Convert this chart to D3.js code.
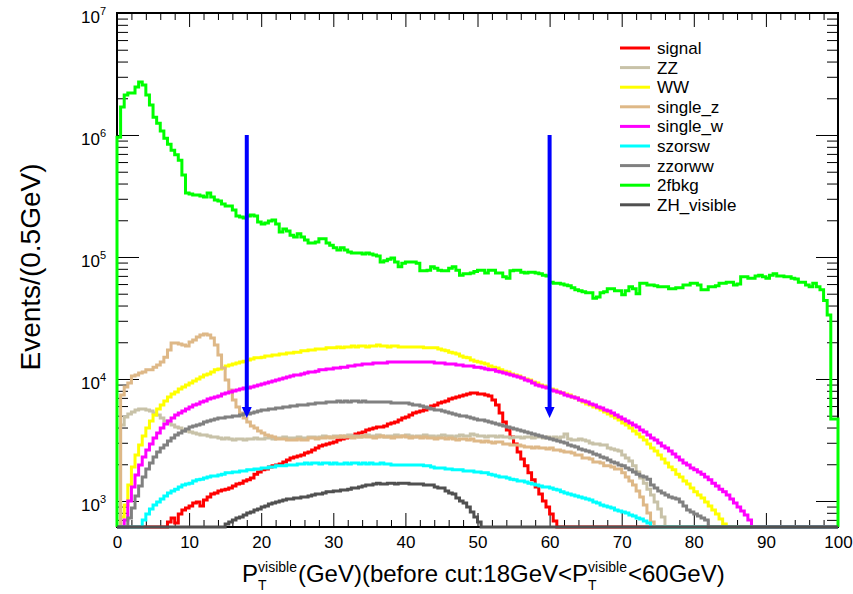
<!DOCTYPE html>
<html>
<head>
<meta charset="utf-8">
<script src="https://cdn.jsdelivr.net/npm/d3@7"></script>
<style>
body { margin: 0; background: #fff; }
svg { display: block; font-family: "Liberation Sans", Arial, Helvetica, sans-serif; }
</style>
</head>
<body>
<svg id="pt-graph" width="853" height="594"></svg>
<script>
var seriesNames = ["signal", "ZZ", "WW", "single_z", "single_w", "szorsw", "zzorww", "2fbkg", "ZH_visible"];
var seriesColors = ["#ff0000", "#c8c2a8", "#ffff00", "#deb887", "#ff00ff", "#00ffff", "#808080", "#00ff00", "#505050"];

var binWidth = 0.5, nBins = 200;
var xTicks = [0, 10, 20, 30, 40, 50, 60, 70, 80, 90, 100];
var yMajor = [1e3, 1e4, 1e5, 1e6, 1e7];
var yExpLabels = ["3", "4", "5", "6", "7"];
var cutValues = [18, 60];
var arrowFrom = 1e6, arrowTo = 4800;

// first bin index + bin contents (events / 0.5 GeV)
var signalStart = 14;
var signal = [673, 726, 660, 782, 844, 876, 910, 963, 981, 910,
  1020, 1080, 1140, 1160, 1210, 1230, 1250, 1280, 1330, 1380,
  1400, 1460, 1490, 1540, 1660, 1730, 1800, 1830, 1900, 1940,
  1970, 2010, 2090, 2170, 2250, 2290, 2340, 2380, 2470, 2520,
  2620, 2720, 2820, 2880, 2930, 2990, 3050, 3160, 3220, 3280,
  3350, 3410, 3540, 3610, 3680, 3820, 3890, 3970, 4040, 4040,
  4120, 4280, 4360, 4440, 4610, 4790, 4880, 5070, 5260, 5360,
  5470, 5570, 5780, 6010, 6120, 6360, 6480, 6600, 6860, 6990,
  7120, 7260, 7390, 7530, 7680, 7680, 7530, 7530, 7390, 7260,
  6730, 6120, 5260, 4440, 3820, 3350, 2930, 2520, 2210, 1940,
  1700, 1490, 1300, 1140, 1000, 893, 782, 686];

var zzStart = 1;
var zz = [4200, 4880, 5170, 5360, 5570, 5680, 5680, 5570, 5470, 5260,
  5070, 4790, 4530, 4360, 4200, 4040, 3970, 3820, 3750, 3680,
  3610, 3540, 3470, 3470, 3410, 3350, 3350, 3280, 3220, 3280,
  3220, 3160, 3220, 3220, 3160, 3220, 3220, 3280, 3220, 3220,
  3280, 3280, 3220, 3280, 3280, 3350, 3280, 3280, 3280, 3350,
  3280, 3280, 3350, 3350, 3280, 3350, 3410, 3350, 3350, 3410,
  3410, 3350, 3410, 3470, 3410, 3410, 3350, 3410, 3470, 3410,
  3410, 3470, 3410, 3350, 3410, 3410, 3470, 3410, 3410, 3470,
  3410, 3350, 3410, 3410, 3470, 3410, 3410, 3350, 3410, 3470,
  3410, 3410, 3350, 3410, 3470, 3410, 3410, 3540, 3470, 3410,
  3410, 3350, 3410, 3410, 3350, 3410, 3350, 3350, 3280, 3350,
  3350, 3280, 3350, 3350, 3280, 3350, 3350, 3280, 3350, 3280,
  3350, 3280, 3350, 3540, 3220, 3160, 3160, 3220, 3160, 3100,
  2990, 2930, 2930, 2880, 2880, 2720, 2670, 2620, 2570, 2380,
  2250, 2130, 1940, 1730, 1540, 1400, 1250, 1120, 981, 860, 739];

var wwStart = 1;
var ww = [739, 927, 1350, 1900, 2380, 2880, 3410, 3970, 4530, 5070,
  5680, 6120, 6600, 7120, 7530, 7820, 8280, 8600, 8930, 9270,
  9630, 10000, 10400, 10800, 11000, 11400, 11900, 12100, 12300, 12800,
  13000, 13300, 13500, 13800, 14000, 14300, 14600, 14900, 14900, 15100,
  15400, 15400, 15700, 15700, 16000, 16000, 16300, 16300, 16600, 16600,
  17000, 17000, 17300, 17300, 17600, 17600, 17600, 18000, 18000, 18000,
  18300, 18000, 18300, 18300, 18600, 18300, 18600, 18600, 18300, 18600,
  18600, 19000, 18600, 18600, 18300, 18600, 18600, 18300, 18300, 18300,
  18300, 18300, 18300, 18300, 18000, 18000, 18000, 18000, 17600, 17300,
  17000, 16600, 16300, 16000, 15400, 15100, 14900, 14300, 14000, 13800,
  13500, 13300, 12800, 12500, 12300, 11900, 11600, 11400, 11000, 10800,
  10600, 10200, 10000, 9810, 9450, 9270, 8930, 8760, 8600, 8280,
  8130, 7820, 7680, 7530, 7390, 7120, 6990, 6730, 6480, 6240,
  6120, 5900, 5780, 5570, 5360, 5170, 4980, 4790, 4610, 4360,
  4200, 3970, 3750, 3540, 3350, 3160, 2930, 2720, 2570, 2380,
  2210, 2050, 1900, 1800, 1660, 1570, 1460, 1380, 1280, 1190,
  1120, 1060, 981, 910, 844, 782, 712, 648];

var singleZStart = 1;
var singleZ = [7390, 8600, 9270, 10600, 10800, 11200, 11400, 11900, 11900, 12500,
  13000, 13800, 15100, 17300, 19700, 19700, 19400, 19000, 18600, 20100,
  20900, 22100, 22900, 23400, 22900, 21700, 19000, 15700, 12300, 9810,
  8130, 6730, 5900, 5260, 4790, 4440, 4120, 3970, 3750, 3610,
  3470, 3410, 3350, 3220, 3220, 3220, 3160, 3160, 3160, 3220,
  3160, 3160, 3280, 3280, 3220, 3280, 3280, 3350, 3280, 3350,
  3350, 3410, 3350, 3350, 3280, 3350, 3350, 3410, 3350, 3350,
  3280, 3350, 3410, 3350, 3350, 3280, 3350, 3350, 3410, 3350,
  3280, 3350, 3350, 3280, 3350, 3280, 3280, 3220, 3280, 3280,
  3220, 3280, 3220, 3160, 3220, 3220, 3160, 3220, 3100, 3100,
  3050, 3100, 3050, 2990, 3050, 3050, 2930, 2930, 2880, 2880,
  2880, 2820, 2770, 2770, 2720, 2770, 2720, 2720, 2670, 2720,
  2620, 2620, 2570, 2520, 2520, 2470, 2380, 2380, 2250, 2250,
  2210, 2090, 2090, 2050, 1940, 1940, 1900, 1830, 1830, 1700,
  1570, 1460, 1350, 1210, 1080, 927, 797, 673];

var singleWStart = 2;
var singleW = [699, 1000, 1300, 1630, 1970, 2290, 2620, 2930, 3280, 3610,
  3970, 4280, 4530, 4790, 5070, 5260, 5470, 5680, 5900, 6120,
  6240, 6480, 6600, 6860, 6990, 7120, 7260, 7530, 7680, 7820,
  7970, 8130, 8280, 8440, 8440, 8600, 8760, 8930, 9100, 9270,
  9450, 9630, 9810, 10000, 10200, 10400, 10600, 10800, 10800, 11000,
  11200, 11400, 11400, 11600, 11900, 11900, 12100, 12100, 12300, 12300,
  12500, 12500, 12800, 12800, 13000, 13000, 13300, 13300, 13300, 13500,
  13500, 13500, 13500, 13800, 13800, 13800, 13800, 13800, 13800, 13800,
  13800, 13800, 13800, 13800, 13800, 13800, 13500, 13500, 13500, 13300,
  13300, 13300, 13000, 13000, 12800, 12800, 12800, 12500, 12500, 12300,
  12100, 11900, 11900, 11600, 11400, 11200, 11000, 10800, 10600, 10400,
  10200, 9810, 9630, 9270, 8930, 8760, 8600, 8440, 8130, 7970,
  7820, 7680, 7390, 7260, 7120, 6990, 6730, 6600, 6480, 6240,
  6120, 5900, 5780, 5570, 5470, 5260, 5070, 4880, 4700, 4530,
  4360, 4200, 4040, 3820, 3680, 3470, 3280, 3160, 2990, 2820,
  2720, 2570, 2430, 2290, 2170, 2050, 1970, 1860, 1800, 1730,
  1660, 1570, 1490, 1400, 1330, 1250, 1190, 1120, 1040, 963,
  893, 828, 768, 699];

var szorswStart = 7;
var szorsw = [699, 782, 860, 927, 981, 1040, 1100, 1160, 1210, 1250,
  1300, 1350, 1380, 1400, 1460, 1490, 1510, 1540, 1570, 1600,
  1600, 1630, 1660, 1700, 1700, 1730, 1730, 1760, 1760, 1800,
  1800, 1830, 1830, 1860, 1860, 1900, 1900, 1940, 1940, 1940,
  1970, 1970, 1970, 2010, 2010, 2050, 2010, 2050, 2050, 2010,
  2050, 2050, 2010, 2050, 2010, 2010, 2050, 2010, 2050, 2050,
  2010, 2050, 2010, 2050, 2010, 2010, 2050, 2010, 2010, 1970,
  1970, 1970, 1970, 1970, 1970, 1970, 1970, 1970, 1940, 1940,
  1900, 1860, 1860, 1860, 1830, 1830, 1800, 1800, 1800, 1760,
  1760, 1760, 1730, 1730, 1700, 1700, 1660, 1630, 1600, 1570,
  1570, 1540, 1510, 1490, 1460, 1460, 1430, 1400, 1380, 1350,
  1330, 1300, 1300, 1280, 1250, 1230, 1190, 1160, 1140, 1120,
  1100, 1080, 1060, 1040, 1020, 981, 963, 927, 910, 893,
  876, 844, 828, 813, 797, 768, 753, 726, 712, 686, 660];

var zzorwwStart = 3;
var zzorww = [726, 876, 1100, 1330, 1570, 1830, 2050, 2290, 2520, 2720,
  2880, 3100, 3280, 3470, 3610, 3750, 3890, 4040, 4120, 4200,
  4280, 4440, 4530, 4610, 4700, 4790, 4790, 4880, 4880, 4980,
  4980, 5070, 5170, 5170, 5260, 5360, 5470, 5570, 5570, 5680,
  5680, 5780, 5780, 5900, 5900, 6010, 6010, 6120, 6120, 6120,
  6240, 6240, 6360, 6360, 6360, 6480, 6480, 6480, 6600, 6480,
  6600, 6480, 6600, 6600, 6480, 6600, 6480, 6480, 6480, 6480,
  6480, 6480, 6480, 6360, 6360, 6360, 6360, 6360, 6240, 6120,
  6120, 6010, 5900, 5780, 5680, 5570, 5570, 5470, 5360, 5260,
  5170, 5070, 4980, 4980, 4880, 4790, 4700, 4610, 4610, 4530,
  4440, 4360, 4280, 4200, 4120, 4040, 3970, 3890, 3820, 3750,
  3680, 3610, 3540, 3470, 3410, 3350, 3280, 3220, 3160, 3100,
  3050, 2990, 2880, 2820, 2770, 2670, 2620, 2570, 2520, 2430,
  2380, 2290, 2250, 2170, 2090, 2050, 1970, 1940, 1860, 1800,
  1730, 1660, 1600, 1570, 1510, 1350, 1280, 1210, 1160, 1120,
  1080, 1060, 1040, 981, 910, 844, 813, 782, 753, 726, 699];

var bkg2fStart = 0;
var bkg2f = [960000, 1700000, 2130000, 2210000, 2210000, 2470000, 2720000, 2570000, 2130000, 1760000,
  1400000, 1250000, 1080000, 940000, 840000, 750000, 690000, 620000, 470000, 335000,
  328000, 322000, 322000, 316000, 310000, 335000, 310000, 293000, 288000, 272000,
  262000, 262000, 243000, 217000, 213000, 209000, 217000, 221000, 217000, 194000,
  186000, 190000, 197000, 201000, 186000, 160000, 170000, 163000, 151000, 146000,
  155000, 146000, 138000, 130000, 130000, 133000, 141000, 141000, 130000, 125000,
  119000, 114000, 119000, 114000, 110000, 108000, 108000, 108000, 106000, 108000,
  106000, 104000, 102000, 91000, 93000, 96000, 98000, 91000, 83000, 89000,
  91000, 91000, 91000, 89000, 77000, 77000, 78000, 83000, 81000, 78000,
  77000, 77000, 81000, 83000, 78000, 71000, 73000, 73000, 74000, 76000,
  78000, 78000, 74000, 78000, 78000, 74000, 74000, 69000, 67000, 77000,
  78000, 78000, 75000, 74000, 75000, 75000, 74000, 73000, 71000, 70000,
  62000, 61000, 61000, 60000, 59000, 58000, 56000, 54000, 53000, 52000,
  51000, 51000, 46000, 47000, 51000, 52000, 55000, 55000, 53000, 53000,
  49000, 53000, 57000, 55000, 50000, 61000, 61000, 59000, 59000, 58000,
  57000, 57000, 57000, 55000, 55000, 56000, 56000, 59000, 59000, 61000,
  61000, 59000, 54000, 54000, 57000, 57000, 58000, 61000, 61000, 62000,
  62000, 59000, 60000, 69000, 69000, 67000, 67000, 70000, 71000, 69000,
  67000, 71000, 73000, 70000, 70000, 69000, 69000, 67000, 66000, 62000,
  62000, 59000, 57000, 61000, 57000, 54000, 44000, 33500, 4700, 4700];

var zhStart = 30;
var zh = [648, 673, 699, 726, 739, 768, 797, 813, 844, 860,
  893, 910, 945, 963, 981, 1000, 1020, 1040, 1040, 1060,
  1060, 1080, 1080, 1100, 1120, 1140, 1140, 1160, 1190, 1190,
  1210, 1210, 1230, 1230, 1250, 1280, 1280, 1300, 1330, 1350,
  1350, 1380, 1400, 1380, 1380, 1400, 1400, 1380, 1400, 1400,
  1400, 1380, 1380, 1380, 1380, 1350, 1350, 1350, 1300, 1280,
  1280, 1210, 1160, 1140, 1060, 1000, 963, 893, 813, 739, 673];

var seriesData = [
  [signalStart, signal], [zzStart, zz], [wwStart, ww], [singleZStart, singleZ],
  [singleWStart, singleW], [szorswStart, szorsw], [zzorwwStart, zzorww],
  [bkg2fStart, bkg2f], [zhStart, zh]
];

var svg = d3.select("#pt-graph"),
    margin = {top: 13, right: 15, bottom: 67, left: 117},
    width = +svg.attr("width") - margin.left - margin.right,
    height = +svg.attr("height") - margin.top - margin.bottom,
    g = svg.append("g").attr("transform", "translate(" + margin.left + "," + margin.top + ")");

var yMin = 612, yMax = 1e7;

var x = d3.scaleLinear().domain([0, 100]).range([0, width]);
var y = d3.scaleLog().domain([yMin, yMax]).range([height, 0]);

var xMinor = d3.range(0, 101, 2).filter(function(d) { return d % 10 !== 0; });
var yMinor = y.ticks().filter(function(d) { return yMajor.indexOf(d) < 0; });

function styleTicks(sel) {
  sel.select(".domain").remove();
  sel.selectAll(".tick line").attr("stroke", "black").attr("stroke-width", 1);
}

// bottom / top
g.append("g").attr("transform", "translate(0," + height + ")")
    .call(d3.axisBottom(x).tickValues(xTicks).tickSize(-14).tickPadding(9).tickFormat(d3.format("d")))
    .call(function(a) {
      styleTicks(a);
      a.selectAll(".tick text").attr("fill", "black").attr("font-size", 17)
          .attr("font-family", "Liberation Sans, Arial, sans-serif");
    });
g.append("g").attr("transform", "translate(0," + height + ")")
    .call(d3.axisBottom(x).tickValues(xMinor).tickSize(-7).tickFormat(""))
    .call(styleTicks);
g.append("g")
    .call(d3.axisTop(x).tickValues(xTicks).tickSize(-14).tickFormat(""))
    .call(styleTicks);
g.append("g")
    .call(d3.axisTop(x).tickValues(xMinor).tickSize(-7).tickFormat(""))
    .call(styleTicks);

// left / right
g.append("g")
    .call(d3.axisLeft(y).tickValues(yMajor).tickSize(-22).tickFormat(""))
    .call(styleTicks);
g.append("g")
    .call(d3.axisLeft(y).tickValues(yMinor).tickSize(-11).tickFormat(""))
    .call(styleTicks);
g.append("g").attr("transform", "translate(" + width + ",0)")
    .call(d3.axisRight(y).tickValues(yMajor).tickSize(-22).tickFormat(""))
    .call(styleTicks);
g.append("g").attr("transform", "translate(" + width + ",0)")
    .call(d3.axisRight(y).tickValues(yMinor).tickSize(-11).tickFormat(""))
    .call(styleTicks);

var yLab = g.append("g").selectAll("text").data(yMajor).enter().append("text")
    .attr("text-anchor", "end")
    .attr("x", -11)
    .attr("y", function(d) { return y(d) + 10; })
    .attr("font-size", 17)
    .attr("fill", "black");
yLab.append("tspan").text("10");
yLab.append("tspan").attr("font-size", 11).attr("dy", -8).text(function(d, i) { return yExpLabels[i]; });

g.append("rect")
    .attr("width", width).attr("height", height)
    .attr("fill", "none").attr("stroke", "black").attr("stroke-width", 2);

// histograms
var histLine = d3.line()
    .curve(d3.curveStepAfter)
    .x(function(d) { return x(d[0]); })
    .y(function(d) { return y(Math.max(d[1], yMin)); });

seriesData.forEach(function(s, k) {
  var bins = new Array(nBins).fill(0);
  s[1].forEach(function(v, i) { bins[s[0] + i] = v; });
  var pts = [[0, 0]];
  bins.forEach(function(v, i) { pts.push([i * binWidth, v]); });
  pts.push([nBins * binWidth, bins[nBins - 1]]);
  pts.push([nBins * binWidth, 0]);
  g.append("path")
      .datum(pts)
      .attr("fill", "none")
      .attr("stroke", seriesColors[k])
      .attr("stroke-width", 3)
      .attr("stroke-linejoin", "miter")
      .attr("d", histLine);
});

// cut arrows
cutValues.forEach(function(c) {
  var cx = x(c), y0 = y(arrowFrom), y1 = y(arrowTo);
  g.append("line")
      .attr("x1", cx).attr("x2", cx)
      .attr("y1", y0).attr("y2", y1 - 9)
      .attr("stroke", "#0000ff").attr("stroke-width", 4);
  g.append("path")
      .attr("d", "M" + (cx - 5) + "," + (y1 - 11) + "L" + (cx + 5) + "," + (y1 - 11) + "L" + cx + "," + y1 + "Z")
      .attr("fill", "#0000ff");
});

// legend
var legend = svg.append("g").attr("transform", "translate(620,48)");
seriesNames.forEach(function(n, i) {
  var row = legend.append("g").attr("transform", "translate(0," + (i * 19.6) + ")");
  row.append("line").attr("x1", 0).attr("x2", 30).attr("stroke", seriesColors[i]).attr("stroke-width", 3);
  row.append("text").attr("x", 37).attr("y", 6).attr("font-size", 17).attr("fill", "black").text(n);
});

// axis titles
svg.append("text")
    .attr("transform", "translate(40,267) rotate(-90)")
    .attr("text-anchor", "middle")
    .attr("font-size", 28)
    .attr("fill", "black")
    .text("Events/(0.5GeV)");

var title = svg.append("g").attr("fill", "black");
var tx = 242, base = 582;
function piece(str, size, off) {
  var t = title.append("text").attr("x", tx).attr("y", base + off).attr("font-size", size).text(str);
  return t.node().getComputedTextLength();
}
function ptSymbol() {
  tx += piece("P", 24, 0);
  var w1 = piece("T", 14, 8), w2 = piece("visible", 14, -10);
  tx += Math.max(w1, w2) + 1;
}
ptSymbol();
tx += piece("(GeV)(before cut:18GeV<", 24, 0);
ptSymbol();
piece("<60GeV)", 24, 0);
</script>
</body>
</html>
